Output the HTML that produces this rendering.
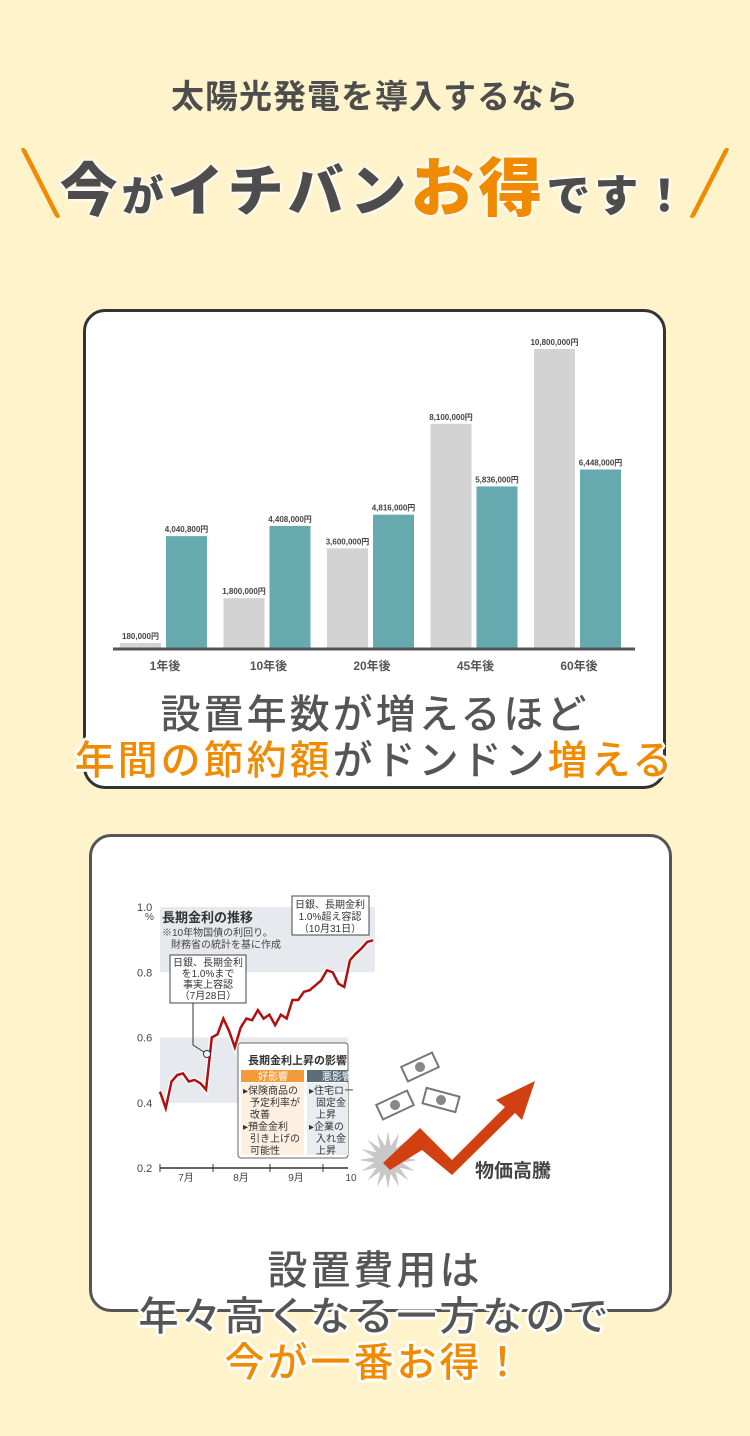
<!DOCTYPE html>
<html><head><meta charset="utf-8">
<style>
*{margin:0;padding:0;box-sizing:border-box}
body{width:750px;height:1436px;background:#fef3cb;font-family:"Liberation Sans","Noto Sans CJK JP",sans-serif;position:relative;overflow:hidden;color:#4d4d4d}
.abs{position:absolute}
.t1{left:0;width:750px;top:70px;text-align:center;font-size:33px;font-weight:bold;color:#4d4d4d;letter-spacing:1px}
.head{left:0;width:750px;top:138px;text-align:center;font-weight:900;color:#4d4d4d;white-space:nowrap;letter-spacing:4px;text-shadow:0 0 4px #fff,0 0 4px #fff,0 0 4px #fff}
.or{color:#f08a00}
.card{background:#fff;border:3px solid #333;border-radius:22px}
.cap{left:0;width:750px;text-align:center;font-weight:500;letter-spacing:3px;white-space:nowrap;text-shadow:-3px 0 #fff,3px 0 #fff,0 -3px #fff,0 3px #fff,-2px -2px #fff,2px 2px #fff,-2px 2px #fff,2px -2px #fff}
</style></head><body>
<div class="abs t1">太陽光発電を導入するなら</div>
<div class="abs" style="left:38px;top:148px;width:5px;height:70px;background:#f08a00;transform:skewX(27deg);border-radius:3px"></div>
<div class="abs" style="left:707px;top:148px;width:5px;height:70px;background:#f08a00;transform:skewX(-27deg);border-radius:3px"></div>
<div class="abs head"><span style="font-size:58px">今</span><span style="font-size:42px">が</span><span style="font-size:56px">イチバン</span><span class="or" style="font-size:64px">お得</span><span style="font-size:44px">です！</span></div>

<div class="abs card" style="left:83px;top:309px;width:583px;height:480px"></div>
<svg class="abs" style="left:0;top:0" width="750" height="1436" id="bar"></svg>
<div class="abs cap" style="top:682px;font-size:40px;color:#555">設置年数が増えるほど</div>
<div class="abs cap" style="top:728px;font-size:40px;color:#555"><span class="or">年間の節約額</span>がドンドン<span class="or">増える</span></div>

<div class="abs card" style="left:89px;top:834px;width:583px;height:478px;border-color:#555"></div>
<svg class="abs" style="left:0;top:0" width="750" height="1436" id="line"></svg>
<div class="abs cap" style="top:1238px;font-size:40px;color:#555">設置費用は</div>
<div class="abs cap" style="top:1284px;font-size:40px;color:#555">年々高くなる一方なので</div>
<div class="abs cap" style="top:1330px;font-size:40px;color:#f08a00">今が一番お得！</div>

<script>
const categories=["1年後","10年後","20年後","45年後","60年後"];
const grayValues=[180000,1800000,3600000,8100000,10800000];
const tealValues=[4040800,4408000,4816000,5836000,6448000];
const grayLabels=["180,000円","1,800,000円","3,600,000円","8,100,000円","10,800,000円"];
const tealLabels=["4,040,800円","4,408,000円","4,816,000円","5,836,000円","6,448,000円"];

const NS="http://www.w3.org/2000/svg";
function mk(svg,tag,attrs,txt){const e=document.createElementNS(NS,tag);for(const k in attrs)e.setAttribute(k,attrs[k]);if(txt!==undefined)e.textContent=txt;svg.appendChild(e);return e;}

const bar=document.getElementById('bar');
const base=648,maxV=10800000,maxH=299;
function yS(v){return base-v/maxV*maxH;}
function bandX(i){return 120+i*103.5;}
categories.forEach((c,i)=>{
  const x=bandX(i);
  const g=mk(bar,'rect',{x:x,y:yS(grayValues[i]),width:41,height:base-yS(grayValues[i]),fill:'#d3d3d3'});
  
  
  const t=mk(bar,'rect',{x:x+46,y:yS(tealValues[i]),width:41,height:base-yS(tealValues[i]),fill:'#66aaaf'});
  
  
  const gl=mk(bar,'text',{x:x+20.5,y:yS(grayValues[i])-4,'font-size':8,'font-weight':'bold','text-anchor':'middle',fill:'#444'},grayLabels[i]);
  
  
  const tl=mk(bar,'text',{x:x+66.5,y:yS(tealValues[i])-4,'font-size':8,'font-weight':'bold','text-anchor':'middle',fill:'#444'},tealLabels[i]);
  
  
  const cl=mk(bar,'text',{x:x+45,y:670,'font-size':12,'font-weight':'bold','text-anchor':'middle',fill:'#555'},c);
  
  
});
const ax=mk(bar,'line',{x1:113,x2:635,y1:649,y2:649,stroke:'#555','stroke-width':3});



const rates=[0.434,0.383,0.465,0.485,0.49,0.465,0.47,0.46,0.44,0.60,0.61,0.658,0.62,0.57,0.63,0.658,0.653,0.684,0.658,0.67,0.638,0.67,0.658,0.715,0.715,0.74,0.745,0.76,0.775,0.806,0.80,0.765,0.755,0.837,0.857,0.873,0.893,0.898];
const yTicks=[0.2,0.4,0.6,0.8,1.0];
const yTickLabels=["0.2","0.4","0.6","0.8","1.0"];
const months=["7月","8月","9月","10"];
const ln=document.getElementById('line');
function ly(v){return 1168-(v-0.2)/0.8*261;}
function lx(i){return 160+i*(213/(rates.length-1));}
mk(ln,'rect',{x:160,y:ly(1.0),width:215,height:ly(0.8)-ly(1.0),fill:'#e6eaee'});
mk(ln,'rect',{x:160,y:ly(0.6),width:188,height:ly(0.4)-ly(0.6),fill:'#e6eaee'});
yTicks.forEach((v,i)=>{const t=mk(ln,'text',{x:137,y:ly(v)+4,'font-size':11,fill:'#444'},yTickLabels[i]);});
mk(ln,'text',{x:145,y:920,'font-size':10,fill:'#444'},'%');
mk(ln,'line',{x1:160,x2:348,y1:1168,y2:1168,stroke:'#333','stroke-width':1.5});
[160,213,270,323].forEach(x=>mk(ln,'line',{x1:x,x2:x,y1:1164,y2:1172,stroke:'#333'}));
months.forEach((m,i)=>{const t=mk(ln,'text',{x:186+i*55,y:1181,'font-size':10,'text-anchor':'middle',fill:'#444'},m);});
mk(ln,'rect',{x:238,y:1043,width:110,height:115,fill:'#fff',stroke:'#666',rx:3});
mk(ln,'text',{x:248,y:1064,'font-size':11,'font-weight':'bold',fill:'#333'},'長期金利上昇の影響');
mk(ln,'rect',{x:241,y:1070,width:63,height:12,fill:'#f39a3a'});
mk(ln,'rect',{x:307,y:1070,width:41,height:12,fill:'#5a6f7a'});
mk(ln,'text',{x:258,y:1080,'font-size':10,fill:'#fff'},'好影響');
mk(ln,'text',{x:322,y:1080,'font-size':10,fill:'#fff'},'悪影響');
mk(ln,'rect',{x:241,y:1083,width:63,height:72,fill:'#fdf0e0'});
mk(ln,'rect',{x:307,y:1083,width:41,height:72,fill:'#e8edf0'});
["▸保険商品の","予定利率が","改善","▸預金金利","引き上げの","可能性"].forEach((s,i)=>mk(ln,'text',{x:i%3?250:243,y:1094+i*12,'font-size':10,fill:'#333'},s));
["▸住宅ロー","固定金","上昇","▸企業の","入れ金","上昇"].forEach((s,i)=>mk(ln,'text',{x:i%3?316:309,y:1094+i*12,'font-size':10,fill:'#333'},s));
const pts=rates.map((v,i)=>lx(i)+','+ly(v)).join(' ');
mk(ln,'polyline',{points:pts,fill:'none',stroke:'#fff','stroke-width':5});
const pl=mk(ln,'polyline',{points:pts,fill:'none',stroke:'#b01010','stroke-width':2.5});


mk(ln,'text',{x:162,y:922,'font-size':13,'font-weight':'bold',fill:'#333'},'長期金利の推移');
mk(ln,'text',{x:162,y:936,'font-size':10,fill:'#444'},'※10年物国債の利回り。');
mk(ln,'text',{x:171,y:948,'font-size':10,fill:'#444'},'財務省の統計を基に作成');
mk(ln,'rect',{x:292,y:896,width:77,height:39,fill:'#fff',stroke:'#444'});
["日銀、長期金利","1.0%超え容認","（10月31日）"].forEach((s,i)=>mk(ln,'text',{x:330,y:908+i*12,'font-size':10,'text-anchor':'middle',fill:'#333'},s));
mk(ln,'rect',{x:170,y:955,width:76,height:48,fill:'#fff',stroke:'#444'});
["日銀、長期金利","を1.0%まで","事実上容認","（7月28日）"].forEach((s,i)=>mk(ln,'text',{x:208,y:966+i*11,'font-size':10,'text-anchor':'middle',fill:'#333'},s));
mk(ln,'polyline',{points:'193,1003 193,1045 207,1054',fill:'none',stroke:'#333'});
mk(ln,'circle',{cx:207,cy:1054,r:3.5,fill:'#fff',stroke:'#333'});
[[420,1067,-25],[395,1105,-25],[441,1100,15]].forEach(b=>{const g=mk(ln,'g',{transform:`translate(${b[0]},${b[1]}) rotate(${b[2]})`});mk(g,'rect',{x:-17,y:-8,width:34,height:16,fill:'#fff',stroke:'#777','stroke-width':2});mk(g,'circle',{cx:0,cy:0,r:5,fill:'#888'});});
let bp=[];for(let i=0;i<32;i++){const a=i*Math.PI/16,r=i%2?14:29;bp.push((388+r*Math.cos(a))+','+(1160+r*Math.sin(a)));}
mk(ln,'polygon',{points:bp.join(' '),fill:'#c8c8c8'});
const ar=mk(ln,'polygon',{points:'383,1163 420,1128 452,1160 505,1107 496,1100 535,1081 522,1120 515,1113 452,1175 422,1150 390,1170',fill:'#d04010'});


mk(ln,'text',{x:475,y:1177,'font-size':19,'font-weight':'bold',fill:'#444'},'物価高騰');
</script>
</body></html>
